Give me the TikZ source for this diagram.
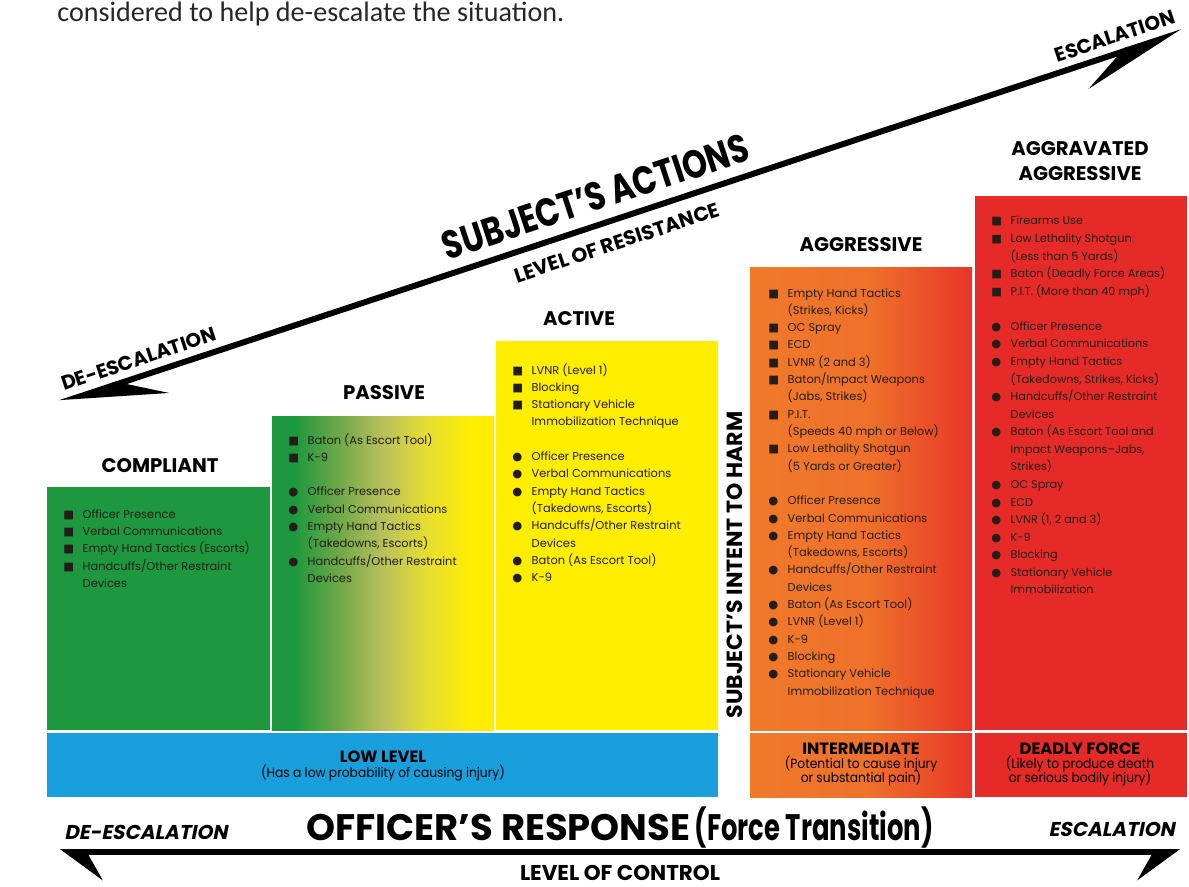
\documentclass[tikz,border=0pt]{standalone}
\usepackage{fontspec}
\setmainfont{Poppins}
\newfontfamily\condfont[FakeStretch=0.8]{Poppins}
\newfontfamily\narrowfont[FakeStretch=0.7]{Poppins}
\newfontfamily\stripfont[FakeStretch=0.92]{Poppins}
\newfontfamily\slantfont[FakeSlant=0.2]{Poppins}
\newfontfamily\notefont{Carlito}
\newfontfamily\symfont{DejaVu Sans}
\usetikzlibrary{arrows.meta}

\definecolor{cgreen}{RGB}{30,152,62}
\definecolor{cyellow}{RGB}{255,238,0}
\definecolor{corange}{RGB}{240,122,42}
\definecolor{cred}{RGB}{230,42,40}
\definecolor{cblue}{RGB}{25,160,220}
\definecolor{ctext}{RGB}{35,30,25}
\definecolor{colive}{RGB}{110,168,72}
\definecolor{ckhaki}{RGB}{185,192,92}
\definecolor{clemon}{RGB}{230,222,48}

\pgfdeclarehorizontalshading{orangered}{100bp}{color(0bp)=(corange); color(25bp)=(corange); color(52bp)=(corange!88!cred); color(75bp)=(cred!85!corange); color(100bp)=(cred!85!corange)}
\pgfdeclarehorizontalshading{greenyellow}{100bp}{color(0bp)=(cgreen); color(25bp)=(cgreen); color(30bp)=(cgreen); color(40bp)=(colive); color(50bp)=(ckhaki); color(60bp)=(clemon); color(70bp)=(cyellow); color(100bp)=(cyellow)}

\newcommand\sqi{\makebox[11pt][l]{\symfont■}}
\newcommand\dti{\makebox[11pt][l]{\symfont●}}
\newcommand\ind{\hspace*{11pt}}

\tikzset{
  heading/.style={font=\bfseries\fontsize{11.2}{12}\selectfont, inner sep=0pt, anchor=base},
  items/.style={font=\fontsize{6.5}{9.85}\selectfont, text=ctext, align=left, inner sep=0pt, anchor=north west},
  striptitle/.style={font=\bfseries\fontsize{9.3}{10}\selectfont, inner sep=0pt, anchor=base},
  stripnote/.style={font=\stripfont\fontsize{7.6}{8}\selectfont, inner sep=0pt, anchor=base},
  sidelabel/.style={font=\slantfont\bfseries\fontsize{11.4}{12}\selectfont, inner sep=0pt},
  diaglabel/.style={font=\bfseries\fontsize{11.3}{12}\selectfont, inner sep=0pt, sloped},
  resarrow/.style={line width=3.4pt, {Stealth[harpoon,length=54pt,width=28pt,inset=24pt]}-{Stealth[harpoon,swap,length=54pt,width=28pt,inset=24pt]}},
  ctlarrow/.style={line width=3.4pt, {Stealth[harpoon,length=22pt,width=32pt,inset=9pt]}-{Stealth[harpoon,swap,length=22pt,width=32pt,inset=9pt]}}
}

\begin{document}
\begin{tikzpicture}[x=0.02cm,y=-0.02cm]
  \useasboundingbox (0,0) rectangle (1189,886);
  \node[font=\notefont\fontsize{16}{18}\selectfont, text=black!85, anchor=base west, inner sep=0pt] (intro) at (57,21) {considered to help de-escalate the situation.};

  % subject's actions
  \fill[cgreen] (47,487) rectangle (270,730);
  \shade[shading=greenyellow] (272,416) rectangle (494,730);
  \fill[cyellow] (496,341) rectangle (718,730);
  \shade[shading=orangered] (750,267) rectangle (972,730);
  \fill[cred] (975,196) rectangle (1187,730);

  % officer's response
  \fill[cblue] (47,733) rectangle (718,797);
  \shade[shading=orangered] (750,733) rectangle (972,797);
  \fill[cred] (975,733) rectangle (1187,797);

  \foreach \name/\x/\y/\txt in {compliant/160/472/COMPLIANT, passive/384/399/PASSIVE,
      active/579/325/ACTIVE, aggressive/861/251/AGGRESSIVE,
      aggravatedA/1080/155/AGGRAVATED, aggravatedB/1080/180/AGGRESSIVE}
    \node[heading] (\name) at (\x,\y) {\txt};

  \node[items] (compliantlist) at (63,509) {%
    \sqi Officer Presence\\
    \sqi Verbal Communications\\
    \sqi Empty Hand Tactics (Escorts)\\
    \sqi Handcuffs/Other Restraint\\
    \ind Devices};

  \node[items] (passivelist) at (288,433) {%
    \sqi Baton (As Escort Tool)\\
    \sqi K-9\\[9.85pt]
    \dti Officer Presence\\
    \dti Verbal Communications\\
    \dti Empty Hand Tactics\\
    \ind (Takedowns, Escorts)\\
    \dti Handcuffs/Other Restraint\\
    \ind Devices};

  \node[items] (activelist) at (512,363) {%
    \sqi LVNR (Level 1)\\
    \sqi Blocking\\
    \sqi Stationary Vehicle\\
    \ind Immobilization Technique\\[9.85pt]
    \dti Officer Presence\\
    \dti Verbal Communications\\
    \dti Empty Hand Tactics\\
    \ind (Takedowns, Escorts)\\
    \dti Handcuffs/Other Restraint\\
    \ind Devices\\
    \dti Baton (As Escort Tool)\\
    \dti K-9};

  \node[items] (aggressivelist) at (768,288) {%
    \sqi Empty Hand Tactics\\
    \ind (Strikes, Kicks)\\
    \sqi OC Spray\\
    \sqi ECD\\
    \sqi LVNR (2 and 3)\\
    \sqi Baton/Impact Weapons\\
    \ind (Jabs, Strikes)\\
    \sqi P.I.T.\\
    \ind (Speeds 40 mph or Below)\\
    \sqi Low Lethality Shotgun\\
    \ind (5 Yards or Greater)\\[9.85pt]
    \dti Officer Presence\\
    \dti Verbal Communications\\
    \dti Empty Hand Tactics\\
    \ind (Takedowns, Escorts)\\
    \dti Handcuffs/Other Restraint\\
    \ind Devices\\
    \dti Baton (As Escort Tool)\\
    \dti LVNR (Level 1)\\
    \dti K-9\\
    \dti Blocking\\
    \dti Stationary Vehicle\\
    \ind Immobilization Technique};

  \node[items, font=\fontsize{6.4}{10}\selectfont] (aggravatedlist) at (991,216) {%
    \sqi Firearms Use\\
    \sqi Low Lethality Shotgun\\
    \ind (Less than 5 Yards)\\
    \sqi Baton (Deadly Force Areas)\\
    \sqi P.I.T. (More than 40 mph)\\[10pt]
    \dti Officer Presence\\
    \dti Verbal Communications\\
    \dti Empty Hand Tactics\\
    \ind (Takedowns, Strikes, Kicks)\\
    \dti Handcuffs/Other Restraint\\
    \ind Devices\\
    \dti Baton (As Escort Tool and\\
    \ind Impact Weapons–Jabs,\\
    \ind Strikes)\\
    \dti OC Spray\\
    \dti ECD\\
    \dti LVNR (1, 2 and 3)\\
    \dti K-9\\
    \dti Blocking\\
    \dti Stationary Vehicle\\
    \ind Immobilization};

  \node[font=\bfseries\fontsize{12.5}{13}\selectfont, rotate=90, inner sep=0pt] (intent) at (735,565) {SUBJECT’S INTENT TO HARM};

  % force levels
  \node[striptitle] (low) at (383,762) {LOW LEVEL};
  \node[stripnote] (lownote) at (383,777) {(Has a low probability of causing injury)};
  \node[striptitle] (inter) at (861,754) {INTERMEDIATE};
  \node[stripnote] (internoteA) at (861,768) {(Potential to cause injury};
  \node[stripnote] (internoteB) at (861,782) {or substantial pain)};
  \node[striptitle] (deadly) at (1080,754) {DEADLY FORCE};
  \node[stripnote] (deadlynoteA) at (1080,768) {(Likely to produce death};
  \node[stripnote] (deadlynoteB) at (1080,782) {or serious bodily injury)};

  % level of resistance
  \coordinate (resL) at (60,403);
  \coordinate (resR) at (1182,32);
  \draw[resarrow] (resL) -- (resR)
    node[diaglabel, pos=0.075, above=4pt] (deescA) {DE-ESCALATION}
    node[diaglabel, pos=0.945, above=4pt] (escA) {ESCALATION}
    node[sloped, pos=0.485, above=6pt, inner sep=0pt, font=\condfont\bfseries\fontsize{22.5}{24}\selectfont] (actions) {SUBJECT’S ACTIONS}
    node[diaglabel, pos=0.49, below=7pt, font=\bfseries\fontsize{11.5}{12}\selectfont] (resist) {LEVEL OF RESISTANCE};

  % level of control
  \coordinate (ctlL) at (60,852);
  \coordinate (ctlR) at (1180,852);
  \draw[ctlarrow] (ctlL) -- (ctlR);
  \node[sidelabel, anchor=base west] (deescB) at (64,839) {DE-ESCALATION};
  \node[sidelabel, anchor=base east] (escB) at (1175,836) {ESCALATION};
  \node[anchor=base, inner sep=0pt] (officer) at (620,840)
    {{\bfseries\fontsize{21}{22}\selectfont OFFICER’S RESPONSE} {\narrowfont\bfseries\fontsize{21}{22}\selectfont(Force Transition)}};
  \node[anchor=base, inner sep=0pt, font=\bfseries\fontsize{12.2}{13}\selectfont] (control) at (620,880) {LEVEL OF CONTROL};
\end{tikzpicture}
\end{document}
